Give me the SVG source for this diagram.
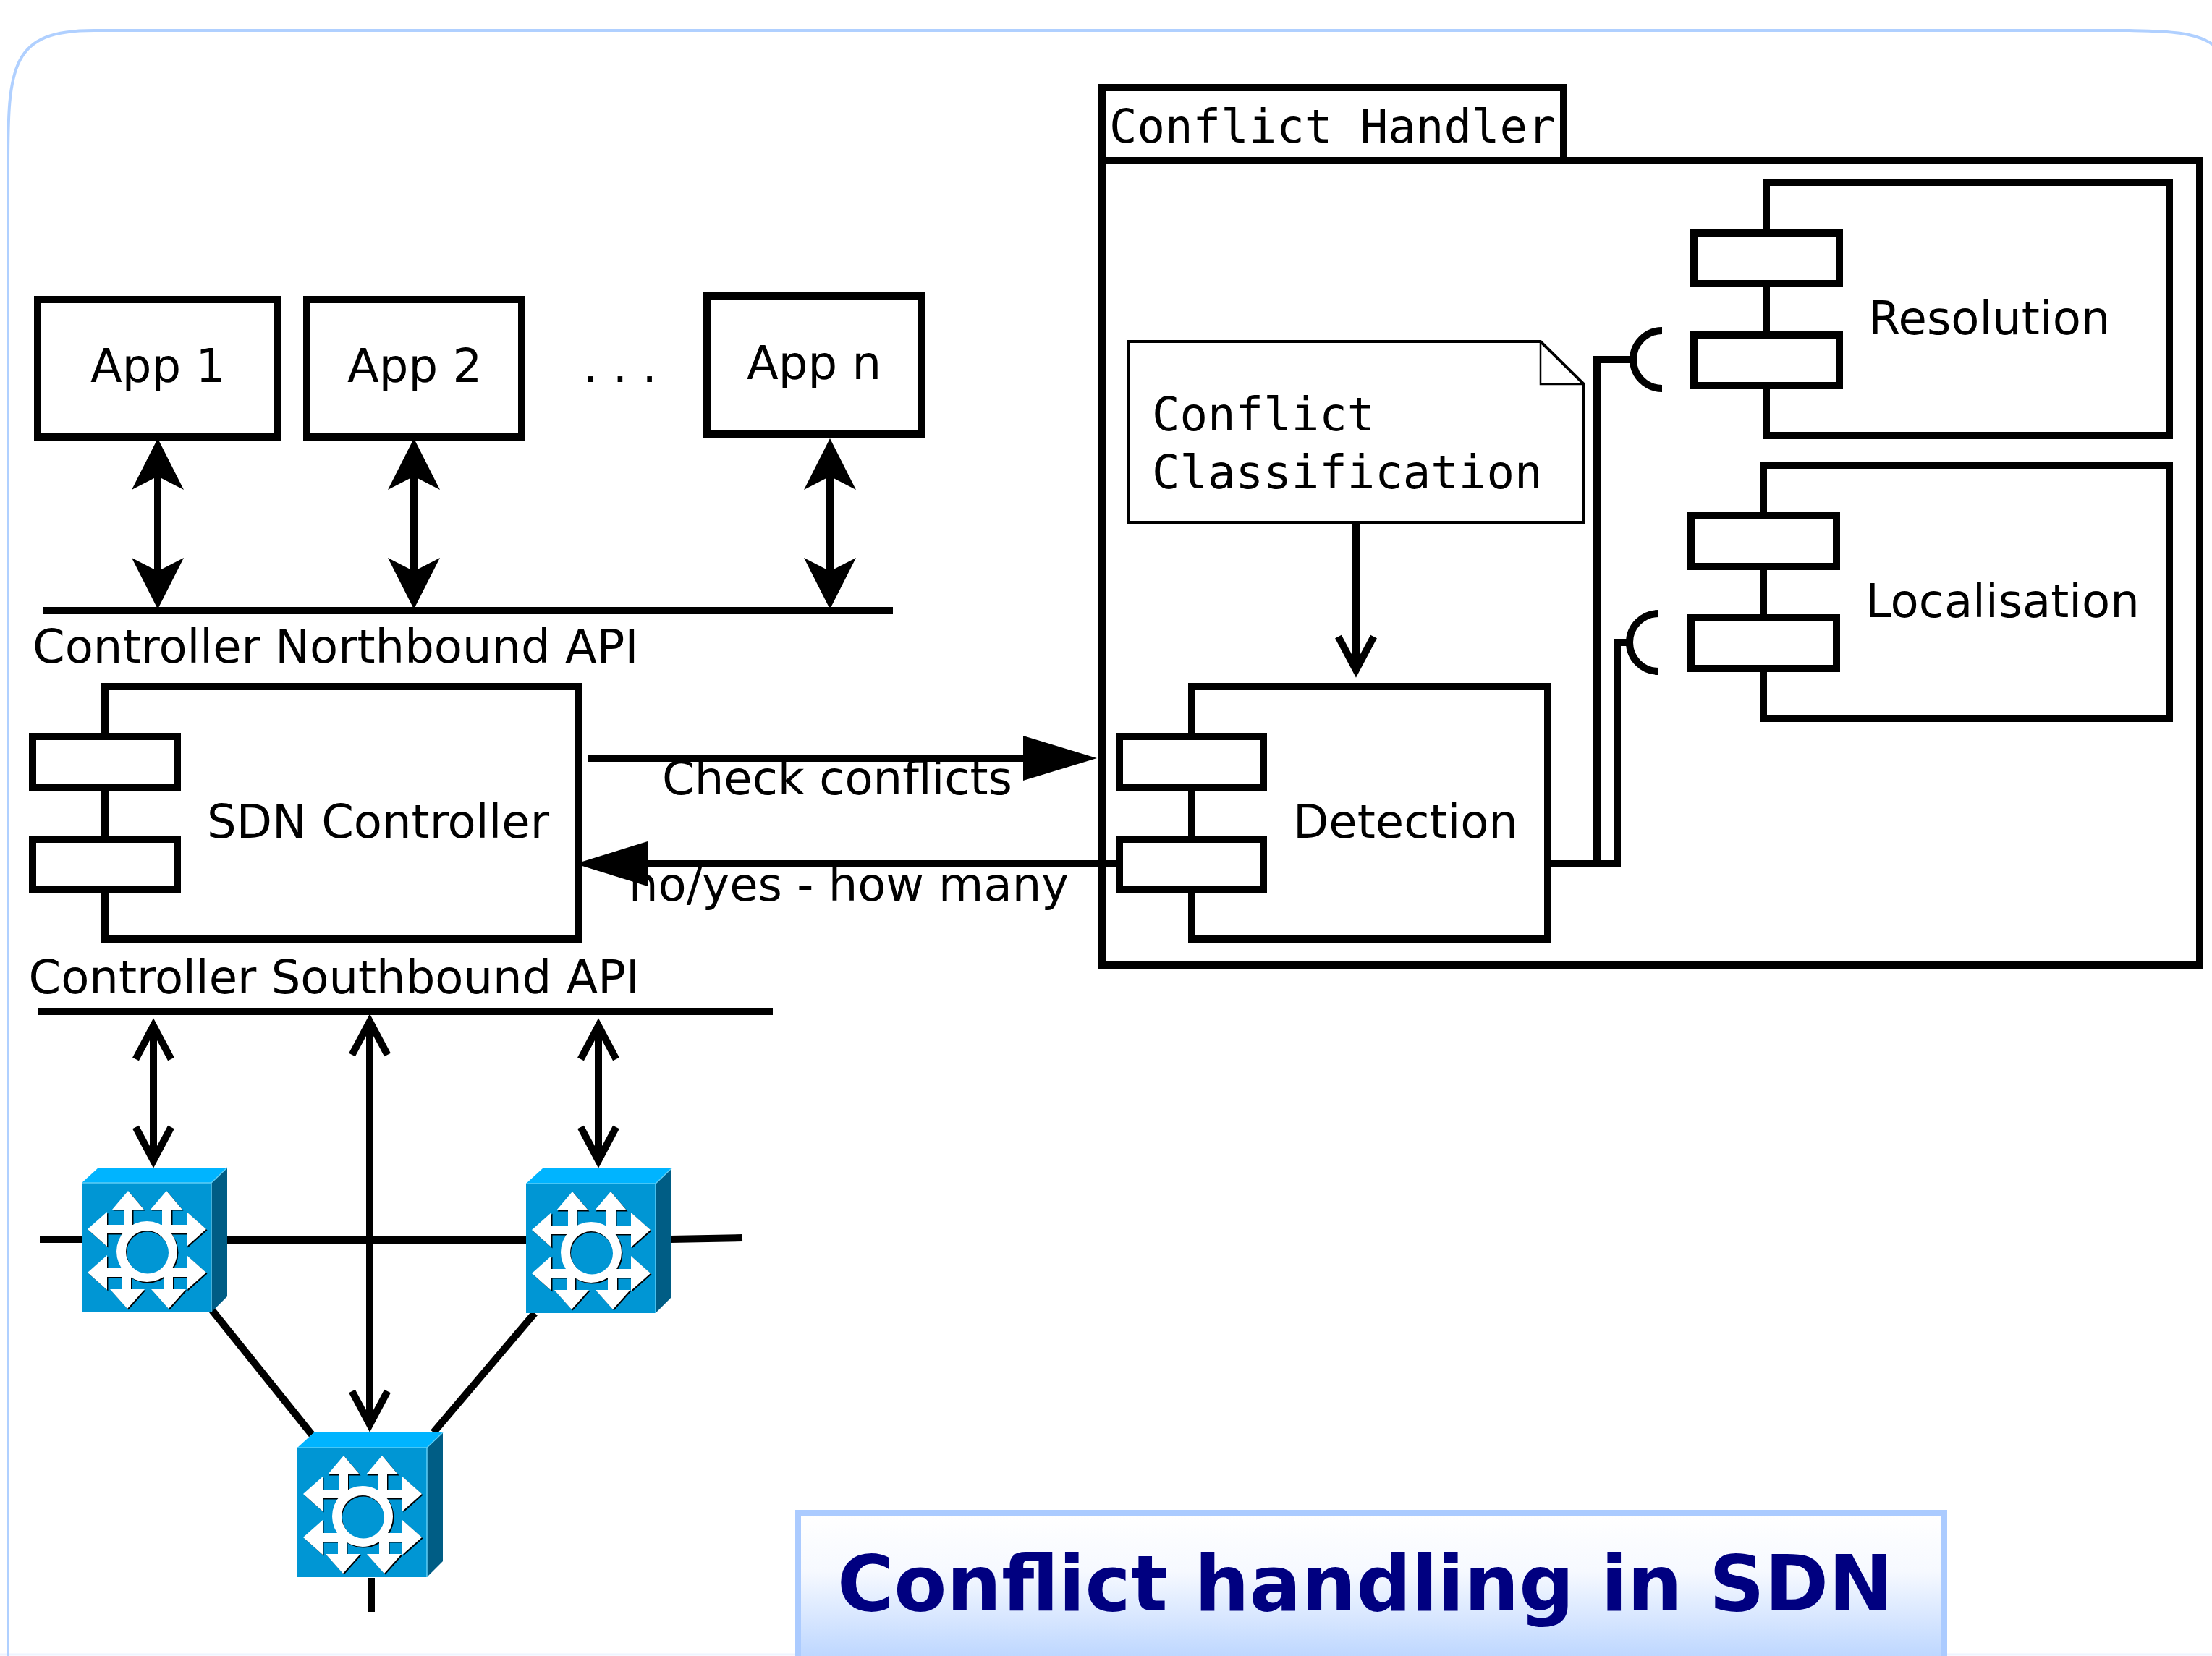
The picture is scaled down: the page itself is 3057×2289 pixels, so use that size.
<svg xmlns="http://www.w3.org/2000/svg" xmlns:xlink="http://www.w3.org/1999/xlink" width="3057" height="2289" viewBox="0 0 3057 2289">
<style>
.box{fill:#fff;stroke:#000;stroke-width:10;stroke-linejoin:miter}
.port{fill:#fff;stroke:#000;stroke-width:10}
.ln{fill:none;stroke:#000;stroke-width:10}
.t{font-family:"DejaVu Sans",sans-serif;font-size:64px;fill:#000}
.m{font-family:"DejaVu Sans Mono",monospace;font-size:64px;fill:#000}
</style>
<defs>
<linearGradient id="tg" gradientUnits="userSpaceOnUse" x1="0" y1="2095" x2="0" y2="2289">
<stop offset="0" stop-color="#fff"/><stop offset="0.4" stop-color="#f6f9ff"/><stop offset="1" stop-color="#bed7ff"/>
</linearGradient>
<marker id="big" markerUnits="userSpaceOnUse" markerWidth="80" markerHeight="80" refX="18" refY="36" orient="auto-start-reverse" viewBox="0 0 80 72">
<path d="M73 36L2 0L18 31V41L2 72Z" fill="#000"/>
</marker>
<marker id="open" markerUnits="userSpaceOnUse" markerWidth="90" markerHeight="70" refX="66" refY="30" orient="auto-start-reverse" viewBox="0 0 90 60">
<path d="M20 5.500L66 30L20 54.500" fill="none" stroke="#000" stroke-width="10"/>
</marker>
<g id="arrows">
<path d="M42 37L64 11L86 37H70V58H111V37H95L117 11L139 37H124V58H145V40L172 64L145 88V70H35V88L8 64L35 40V58H58V37Z"/>
<path d="M35 100V118H145V100L172 124L145 148V130H126V147H144L120 174L96 147H113V130H68V147H87L63 174L39 147H56V130H35V148L8 124Z"/>
<circle cx="90" cy="95" r="42"/>
</g>
<g id="sw">
<path d="M0 0L23 -21H201L179 0Z" fill="#00b4ff"/>
<path d="M179 0L201 -21V157L179 179Z" fill="#005d85"/>
<rect x="0" y="0" width="179" height="179" fill="#0096d4"/>
<path d="M0 0H179V179M179 0L201 -21" fill="none" stroke="#5fcdf5" stroke-width="1.500"/>
<use xlink:href="#arrows" x="1.500" y="1.500" fill="#000"/>
<use xlink:href="#arrows" fill="#fff"/>
<circle cx="90" cy="95" r="29" fill="#000"/>
<circle cx="91" cy="96.500" r="29" fill="#0096d4"/>
</g>
</defs>
<rect width="3057" height="2289" fill="#fff"/>
<g id="page">
<path d="M0 2287H3057" stroke="#eef4ff" stroke-width="3" fill="none"/>
<path d="M11 2289V230C11 90 15 42 130 42H2943C2990 43 3035 43 3060 63" fill="none" stroke="#b0d0ff" stroke-width="4"/>
</g>
<g id="handler">
<rect class="box" x="1523" y="222" width="1517" height="1112"/>
<rect class="box" x="1523" y="121" width="638" height="101"/>
<text class="m" x="1533" y="197">Conflict Handler</text>
</g>
<g id="connectors">
<path class="ln" d="M218 661V787" marker-start="url(#big)" marker-end="url(#big)"/>
<path class="ln" d="M572 661V787" marker-start="url(#big)" marker-end="url(#big)"/>
<path class="ln" d="M1147 661V787" marker-start="url(#big)" marker-end="url(#big)"/>
<path class="ln" d="M60 844H1234"/>
<path class="ln" d="M53 1398H1068"/>
<path class="ln" d="M212 1418V1604" marker-start="url(#open)" marker-end="url(#open)"/>
<path class="ln" d="M511 1412V1969" marker-start="url(#open)" marker-end="url(#open)"/>
<path class="ln" d="M827 1418V1604" marker-start="url(#open)" marker-end="url(#open)"/>
<path class="ln" d="M55 1713H113"/>
<path class="ln" d="M314 1714H727"/>
<path class="ln" d="M926 1713L1026 1711"/>
<path class="ln" d="M293 1811L431 1983"/>
<path class="ln" d="M739 1815L599 1980"/>
<path class="ln" d="M513 2181V2228"/>
<path class="ln" d="M812 1048H1420"/>
<path d="M1414 1017L1516 1048L1414 1079Z"/>
<path class="ln" d="M1547 1194H890"/>
<path d="M895 1163L795 1194L895 1225Z"/>
<path class="ln" d="M1874 722V926" marker-end="url(#open)"/>
<path class="ln" d="M2139 1194H2207V497H2260"/>
<path class="ln" d="M2139 1194H2235V888H2256"/>
</g>
<g id="app1"><rect class="box" x="52" y="414" width="331" height="190"/><text class="t" x="125" y="528">App 1</text></g>
<g id="app2"><rect class="box" x="424" y="414" width="297" height="190"/><text class="t" x="480" y="528">App 2</text></g>
<g id="dots"><text class="t" x="806" y="528">. . .</text></g>
<g id="appn"><rect class="box" x="977" y="409" width="296" height="191"/><text class="t" x="1032" y="524">App n</text></g>
<g id="northbound"><text class="t" x="45" y="916">Controller Northbound API</text></g>
<g id="southbound"><text class="t" x="39.500" y="1373">Controller Southbound API</text></g>
<g id="sdn">
<rect class="box" x="145" y="949" width="655" height="349"/>
<rect class="port" x="45" y="1018" width="200" height="70"/>
<rect class="port" x="45" y="1160" width="200" height="70"/>
<text class="t" x="286" y="1158">SDN Controller</text>
</g>
<g id="labels">
<text class="t" x="915" y="1098">Check conflicts</text>
<text class="t" x="869" y="1245">no/yes - how many</text>
</g>
<g id="note">
<path d="M1559 472H2129L2189 531V722H1559Z" fill="#fff" stroke="#000" stroke-width="4"/>
<path d="M2129 472V531H2189" fill="none" stroke="#000" stroke-width="2.500"/>
<text class="m" x="1592" y="595">Conflict</text>
<text class="m" x="1592" y="675">Classification</text>
</g>
<g id="detection">
<rect class="box" x="1647" y="949" width="492" height="349"/>
<rect class="port" x="1547" y="1018" width="199" height="70"/>
<rect class="port" x="1547" y="1160" width="199" height="70"/>
<text class="t" x="1787" y="1158">Detection</text>
</g>
<g id="resolution">
<rect class="box" x="2441" y="252" width="557" height="350"/>
<rect class="port" x="2341" y="322" width="201" height="70"/>
<rect class="port" x="2341" y="463" width="201" height="70"/>
<text class="t" x="2582" y="462">Resolution</text>
<path class="ln" d="M2297 457A40 40 0 0 0 2297 537"/>
</g>
<g id="localisation">
<rect class="box" x="2437" y="643" width="561" height="350"/>
<rect class="port" x="2337" y="713" width="201" height="70"/>
<rect class="port" x="2337" y="854" width="201" height="70"/>
<text class="t" x="2578" y="853">Localisation</text>
<path class="ln" d="M2292 848A40 40 0 0 0 2292 928"/>
</g>
<g id="switch1"><use xlink:href="#sw" x="113" y="1635"/></g>
<g id="switch2"><use xlink:href="#sw" x="727" y="1636"/></g>
<g id="switch3"><use xlink:href="#sw" x="411" y="2001"/></g>
<g id="title">
<rect x="1103" y="2091" width="1584" height="210" fill="url(#tg)" stroke="#abcbff" stroke-width="8"/>
<text x="1157" y="2226" font-family="'DejaVu Sans',sans-serif" font-weight="bold" font-size="106.500px" fill="#000080">Conflict handling in SDN</text>
</g>
</svg>
